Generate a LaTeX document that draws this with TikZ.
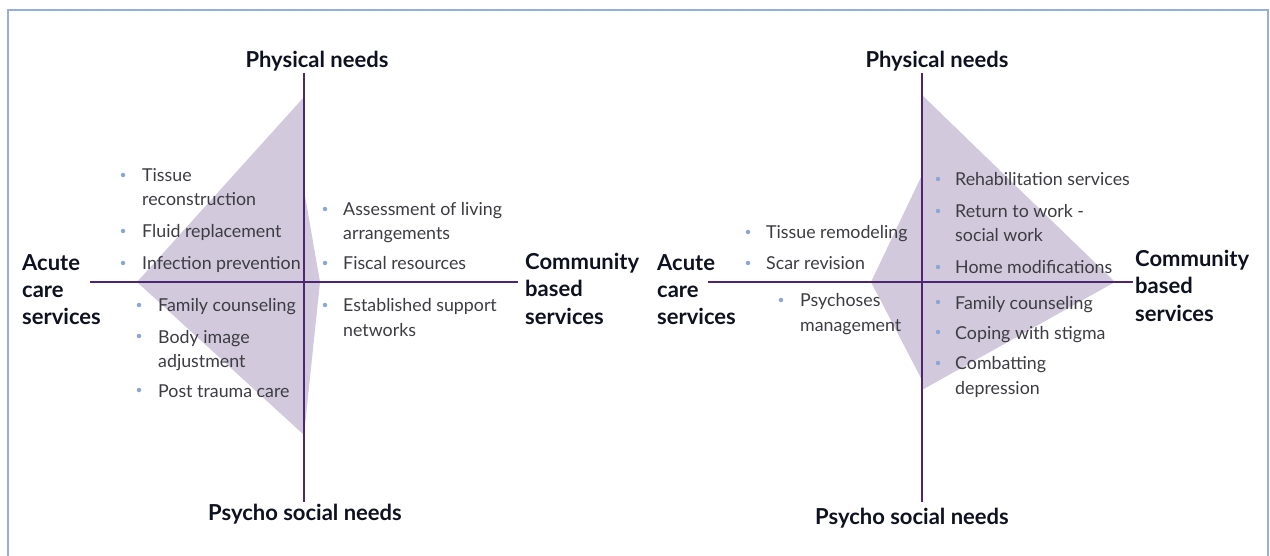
\documentclass[tikz,border=0pt]{standalone}
\usepackage{fontspec}
\setmainfont{Lato}
\definecolor{framec}{RGB}{150,174,218}
\definecolor{axisc}{RGB}{76,38,112}
\definecolor{fillc}{RGB}{211,201,221}
\definecolor{textc}{RGB}{60,60,66}
\definecolor{labelc}{RGB}{14,18,32}
\definecolor{bulc}{RGB}{140,165,215}
\begin{document}
\begin{tikzpicture}[x=1pt,y=-1pt,
  item/.style={anchor=base west, inner sep=0, text=textc, font=\fontsize{17.8}{24}\selectfont},
  lab/.style={anchor=base west, inner sep=0, text=labelc, font=\bfseries\fontsize{22}{27}\selectfont},
  labmid/.style={lab, anchor=base},
  axisline/.style={draw=axisc, line width=2.8pt},
  zone/.style={fill=fillc},
  bul/.style={circle, fill=bulc, inner sep=0, minimum size=4.5pt}]
\useasboundingbox (0,0) rectangle (1270,556);
\clip (0,0) rectangle (1270,556);
% frame
\draw[framec, line width=2.2pt] (8,570) -- (8,10) -- (1268,10) -- (1268,570);

% ===== left diagram =====
\fill[zone] (304,97) -- (137,282) -- (304,435) -- (320,282) -- (304,190) -- cycle;
\coordinate (LT) at (304,73);
\coordinate (LB) at (304,502);
\coordinate (LL) at (90,282);
\coordinate (LR) at (518,282);
\draw[axisline] (LT) -- (LB);
\draw[axisline] (LL) -- (LR);

\node[labmid] (Lphys) at (317,68) {Physical needs};
\node[labmid] (Lpsy) at (305,520) {Psycho social needs};
\node[lab] (Lac1) at (22,271) {Acute};
\node[lab] (Lac2) at (22,298) {care};
\node[lab] (Lac3) at (22,325) {services};
\node[lab] (Lco1) at (525,270) {Community};
\node[lab] (Lco2) at (525,297) {based};
\node[lab] (Lco3) at (525,324) {services};

% left-top quadrant
\node[bul] (b1) at (123,175) {};
\node[item] (t1a) at (142,182) {Tissue};
\node[item] (t1b) at (142,206) {reconstruction};
\node[bul] (b2) at (123,231) {};
\node[item] (t2) at (142,238) {Fluid replacement};
\node[bul] (b3) at (123,263) {};
\node[item] (t3) at (142,270) {Infection prevention};
% left-bottom quadrant
\node[bul] (b4) at (139,305) {};
\node[item] (t4) at (158,312) {Family counseling};
\node[bul] (b5) at (139,336) {};
\node[item] (t5a) at (158,343) {Body image};
\node[item] (t5b) at (158,367) {adjustment};
\node[bul] (b6) at (139,390) {};
\node[item] (t6) at (158,397) {Post trauma care};
% right-top quadrant
\node[bul] (b7) at (325,209) {};
\node[item] (t7a) at (343,216) {Assessment of living};
\node[item] (t7b) at (343,240) {arrangements};
\node[bul] (b8) at (325,263) {};
\node[item] (t8) at (343,270) {Fiscal resources};
% right-bottom quadrant
\node[bul] (b9) at (325,305) {};
\node[item] (t9a) at (343,312) {Established support};
\node[item] (t9b) at (343,336) {networks};

% ===== right diagram =====
\fill[zone] (922,95) -- (1115,282) -- (922,390) -- (922,380) -- (871,282) -- (922,175) -- cycle;
\coordinate (RT) at (922,73);
\coordinate (RB) at (922,502);
\coordinate (RL) at (708,282);
\coordinate (RR) at (1133,282);
\draw[axisline] (RT) -- (RB);
\draw[axisline] (RL) -- (RR);

\node[labmid] (Rphys) at (937,68) {Physical needs};
\node[labmid] (Rpsy) at (912,524) {Psycho social needs};
\node[lab] (Rac1) at (657,271) {Acute};
\node[lab] (Rac2) at (657,298) {care};
\node[lab] (Rac3) at (657,325) {services};
\node[lab] (Rco1) at (1135,267) {Community};
\node[lab] (Rco2) at (1135,294) {based};
\node[lab] (Rco3) at (1135,321) {services};

% left-top
\node[bul] (c1) at (748,232) {};
\node[item] (u1) at (766,239) {Tissue remodeling};
\node[bul] (c2) at (748,263) {};
\node[item] (u2) at (766,270) {Scar revision};
% left-bottom
\node[bul] (c3) at (781,300) {};
\node[item] (u3a) at (800,307) {Psychoses};
\node[item] (u3b) at (800,331) {management};
% right-top
\node[bul] (c4) at (938,179) {};
\node[item] (u4) at (955,186) {Rehabilitation services};
\node[bul] (c5) at (938,211) {};
\node[item] (u5a) at (955,218) {Return to work -};
\node[item] (u5b) at (955,242) {social work};
\node[bul] (c6) at (938,267) {};
\node[item] (u6) at (955,274) {Home modifications};
% right-bottom
\node[bul] (c7) at (938,302) {};
\node[item] (u7) at (955,309) {Family counseling};
\node[bul] (c8) at (938,332) {};
\node[item] (u8) at (955,339) {Coping with stigma};
\node[bul] (c9) at (938,363) {};
\node[item] (u9a) at (955,370) {Combatting};
\node[item] (u9b) at (955,394) {depression};
\end{tikzpicture}
\end{document}
